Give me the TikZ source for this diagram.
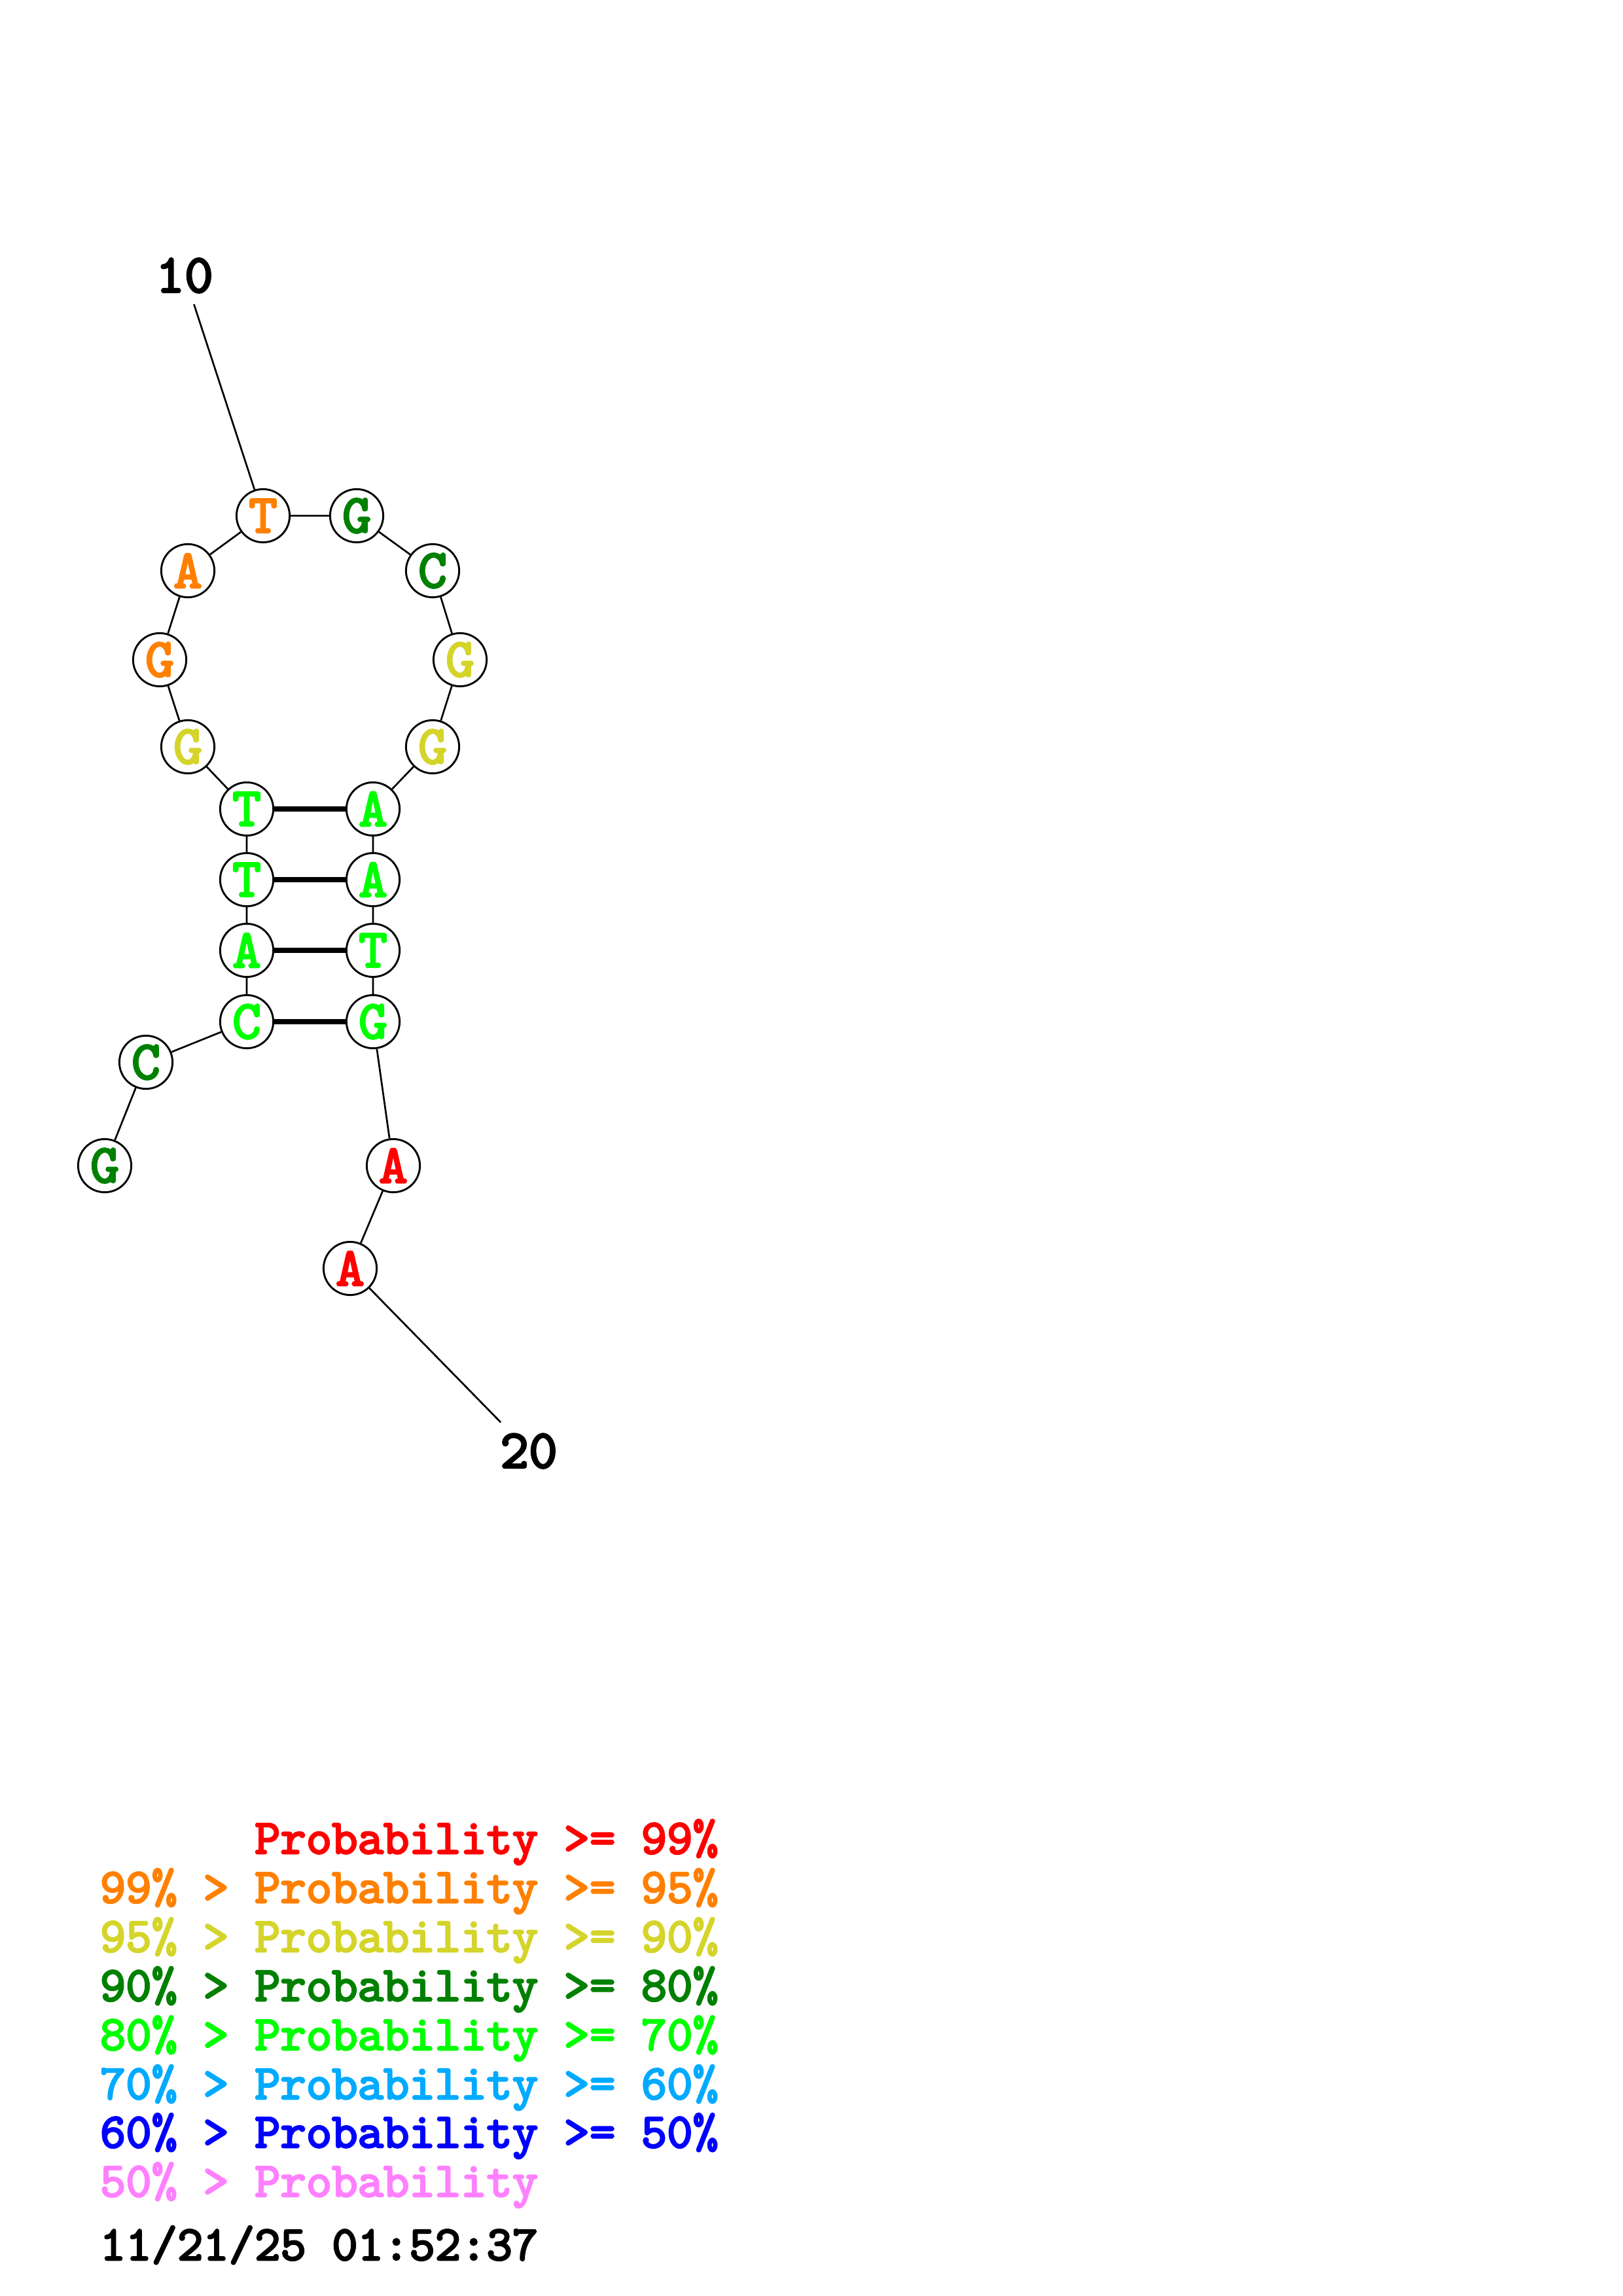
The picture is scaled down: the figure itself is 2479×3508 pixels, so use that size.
\documentclass[tikz,border=0pt]{standalone}
\usepackage{fontspec}
\setmonofont{lmmono10-regular}[Extension=.otf,AutoFakeBold=3.5]
\definecolor{probred}{RGB}{255,0,0}
\definecolor{proborange}{RGB}{255,128,0}
\definecolor{probyellow}{RGB}{212,212,42}
\definecolor{probdkgreen}{RGB}{0,128,0}
\definecolor{probgreen}{RGB}{0,255,0}
\definecolor{problblue}{RGB}{0,170,255}
\definecolor{probblue}{RGB}{0,0,255}
\definecolor{probpink}{RGB}{255,128,255}
\begin{document}
\begin{tikzpicture}[x=0.24pt,y=-0.24pt]
    \tikzstyle{every node}+=[inner sep=0pt]
    \tikzstyle{base}=[draw=black,line width=0.7pt,circle,fill=white,minimum size=19.5pt,font=\ttfamily\bfseries\fontsize{20}{20}\selectfont]
    \tikzstyle{numlabel}=[inner sep=4pt,font=\ttfamily\bfseries\fontsize{20}{20}\selectfont]
    \tikzstyle{backbone}=[black,line width=0.65pt]
    \tikzstyle{pair}=[black,line width=1.7pt]
    \tikzstyle{legend}=[anchor=base west,font=\ttfamily\bfseries\fontsize{18}{18}\selectfont]
    \useasboundingbox (0,0) rectangle (2479,3508);
    % 5' tail and left strand
    \node [base,text=probdkgreen] (n1) at (160,1781) {G};
    \node [base,text=probdkgreen] (n2) at (223,1623) {C};
    \node [base,text=probgreen] (n3) at (377,1561) {C};
    \node [base,text=probgreen] (n4) at (377,1452) {A};
    \node [base,text=probgreen] (n5) at (377,1344) {T};
    \node [base,text=probgreen] (n6) at (377,1236) {T};
    % hairpin loop
    \node [base,text=probyellow] (n7) at (287,1141) {G};
    \node [base,text=proborange] (n8) at (244,1008) {G};
    \node [base,text=proborange] (n9) at (287,872) {A};
    \node [base,text=proborange] (n10) at (402,788) {T};
    \node [base,text=probdkgreen] (n11) at (545,788) {G};
    \node [base,text=probdkgreen] (n12) at (661,872) {C};
    \node [base,text=probyellow] (n13) at (703,1008) {G};
    \node [base,text=probyellow] (n14) at (661,1141) {G};
    % right strand and 3' tail
    \node [base,text=probgreen] (n15) at (570,1236) {A};
    \node [base,text=probgreen] (n16) at (570,1344) {A};
    \node [base,text=probgreen] (n17) at (570,1452) {T};
    \node [base,text=probgreen] (n18) at (570,1561) {G};
    \node [base,text=probred] (n19) at (601,1781) {A};
    \node [base,text=probred] (n20) at (535,1938) {A};
    % position numbers
    \node [numlabel] (lbl10) at (282,421) {10};
    \node [numlabel] (lbl20) at (808,2217) {20};
    \draw [backbone] (n1) -- (n2) -- (n3) -- (n4) -- (n5) -- (n6) -- (n7) -- (n8) -- (n9) -- (n10);
    \draw [backbone] (n10) -- (n11) -- (n12) -- (n13) -- (n14) -- (n15) -- (n16) -- (n17) -- (n18) -- (n19) -- (n20);
    \draw [backbone] (lbl10) -- (n10);
    \draw [backbone] (n20) -- (lbl20);
    % base pairs
    \draw [pair] (n6) -- (n15);
    \draw [pair] (n5) -- (n16);
    \draw [pair] (n4) -- (n17);
    \draw [pair] (n3) -- (n18);
    % legend
    \node [legend,text=probred] (leg1) at (152,2832) {\phantom{99\% > }Probability >= 99\%};
    \node [legend,text=proborange] (leg2) at (152,2907) {99\% > Probability >= 95\%};
    \node [legend,text=probyellow] (leg3) at (152,2982) {95\% > Probability >= 90\%};
    \node [legend,text=probdkgreen] (leg4) at (152,3057) {90\% > Probability >= 80\%};
    \node [legend,text=probgreen] (leg5) at (152,3132) {80\% > Probability >= 70\%};
    \node [legend,text=problblue] (leg6) at (152,3207) {70\% > Probability >= 60\%};
    \node [legend,text=probblue] (leg7) at (152,3281) {60\% > Probability >= 50\%};
    \node [legend,text=probpink] (leg8) at (152,3356) {50\% > Probability};
    \node [legend] (stamp) at (152,3453) {11/21/25 01:52:37};
\end{tikzpicture}
\end{document}
